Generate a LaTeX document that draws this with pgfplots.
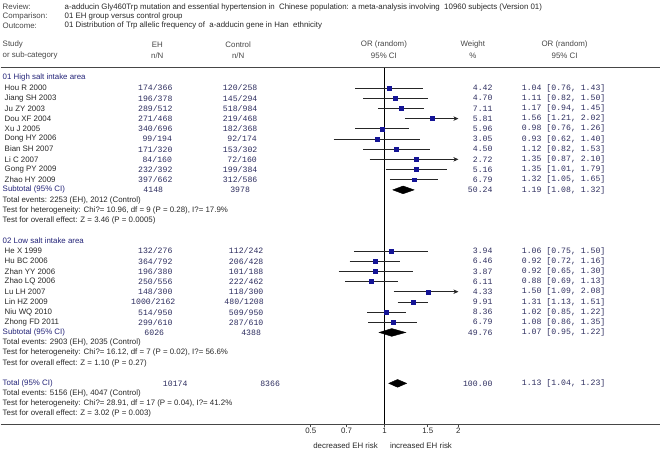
\documentclass[border=0pt]{standalone}
\usepackage{fontspec}
\setmainfont{Liberation Sans}
\setmonofont{Liberation Mono}
\usepackage{pgfplots}
\pgfplotsset{compat=1.18}
\usetikzlibrary{arrows.meta}
\definecolor{navy}{RGB}{20,20,150}
\definecolor{grp}{RGB}{35,35,120}
\definecolor{num}{RGB}{45,45,95}
\definecolor{txt}{RGB}{40,40,40}
\definecolor{lab}{RGB}{70,70,70}
\definecolor{rule}{RGB}{70,70,70}
\begin{document}
\begin{tikzpicture}
\tikzset{
  T/.style={anchor=west, inner sep=0pt, text=txt, font=\fontsize{7.9}{9}\selectfont},
  G/.style={anchor=west, inner sep=0pt, text=grp, font=\fontsize{7.9}{9}\selectfont},
  H/.style={anchor=center, inner sep=0pt, text=lab, font=\fontsize{7.9}{9}\selectfont},
  N/.style={anchor=center, inner sep=0pt, text=num, font=\ttfamily\fontsize{8.2}{9}\selectfont},
  W/.style={anchor=east, inner sep=0pt, text=num, font=\ttfamily\fontsize{8.2}{9}\selectfont},
  O/.style={anchor=west, inner sep=0pt, text=num, font=\ttfamily\fontsize{8.2}{9}\selectfont},
}
% ---------- text / frame axis (pixel units, y downward) ----------
\begin{axis}[at={(0pt,0pt)}, anchor=south west, scale only axis,
  width=661pt, height=452pt, xmin=0, xmax=661, ymin=0, ymax=452,
  y dir=reverse, hide axis, clip=false]
\path (axis cs:0,0) rectangle (axis cs:661,452);
\addplot[rule, line width=1.1pt] coordinates {(0,68) (661,68)};
\addplot[rule, line width=1.1pt] coordinates {(0,425) (661,425)};
% header
\node[T, text=lab] at (axis cs:2,7) {Review:};
\node[T] at (axis cs:64,7) {a-adducin Gly460Trp mutation and essential hypertension in\ \ Chinese population: a meta-analysis involving\ \ 10960 subjects (Version 01)};
\node[T, text=lab] at (axis cs:2,16.5) {Comparison:};
\node[T] at (axis cs:64,16.5) {01 EH group versus control group};
\node[T, text=lab] at (axis cs:2,26) {Outcome:};
\node[T] at (axis cs:64,26) {01 Distribution of Trp allelic frequency of\ \ a-adducin gene in Han\ \ ethnicity};
\node[T, text=lab] at (axis cs:2,45) {Study};
\node[T, text=lab] at (axis cs:2,56) {or sub-category};
\node[H] at (axis cs:157,45) {EH};
\node[H] at (axis cs:157,56) {n/N};
\node[H] at (axis cs:238,45) {Control};
\node[H] at (axis cs:238,56) {n/N};
\node[H] at (axis cs:384,45) {OR (random)};
\node[H] at (axis cs:384,56) {95\% CI};
\node[H] at (axis cs:473,45) {Weight};
\node[H] at (axis cs:473,56) {\%};
\node[H] at (axis cs:565,45) {OR (random)};
\node[H] at (axis cs:565,56) {95\% CI};
% group 1
\node[G] at (axis cs:2,78) {01 High salt intake area};
\node[T] at (axis cs:4,88.2) {Hou R 2000};
\node[T] at (axis cs:4,98.4) {Jiang SH 2003};
\node[T] at (axis cs:4,108.6) {Ju ZY 2003};
\node[T] at (axis cs:4,118.8) {Dou XF 2004};
\node[T] at (axis cs:4,129.0) {Xu J 2005};
\node[T] at (axis cs:4,139.2) {Dong HY 2006};
\node[T] at (axis cs:4,149.4) {Bian SH 2007};
\node[T] at (axis cs:4,159.6) {Li C 2007};
\node[T] at (axis cs:4,169.8) {Gong PY 2009};
\node[T] at (axis cs:4,180.0) {Zhao HY 2009};
\node[G] at (axis cs:2,190.2) {Subtotal (95\% CI)};
\node[T] at (axis cs:2,200.4) {Total events: 2253 (EH), 2012 (Control)};
\node[T] at (axis cs:2,210.6) {Test for heterogeneity: Chi?= 10.96, df = 9 (P = 0.28), I?= 17.9\%};
\node[T] at (axis cs:2,220.8) {Test for overall effect: Z = 3.46 (P = 0.0005)};
\node[N] at (axis cs:155,88.2) {174/366};   \node[N] at (axis cs:240,88.2) {120/258};
\node[N] at (axis cs:155,98.4) {196/378};   \node[N] at (axis cs:240,98.4) {145/294};
\node[N] at (axis cs:155,108.6) {289/512};  \node[N] at (axis cs:240,108.6) {518/984};
\node[N] at (axis cs:155,118.8) {271/468};  \node[N] at (axis cs:240,118.8) {219/468};
\node[N] at (axis cs:155,129.0) {340/696};  \node[N] at (axis cs:240,129.0) {182/368};
\node[N] at (axis cs:157,139.2) {99/194};   \node[N] at (axis cs:242,139.2) {92/174};
\node[N] at (axis cs:155,149.4) {171/320};  \node[N] at (axis cs:240,149.4) {153/302};
\node[N] at (axis cs:157,159.6) {84/160};   \node[N] at (axis cs:242,159.6) {72/160};
\node[N] at (axis cs:155,169.8) {232/392};  \node[N] at (axis cs:240,169.8) {199/384};
\node[N] at (axis cs:155,180.0) {397/662};  \node[N] at (axis cs:240,180.0) {312/586};
\node[N] at (axis cs:153,190.2) {4148};     \node[N] at (axis cs:240,190.2) {3978};
\node[W] at (axis cs:493,88.2) {4.42};  \node[O] at (axis cs:522,88.2) {1.04 [0.76, 1.43]};
\node[W] at (axis cs:493,98.4) {4.70};  \node[O] at (axis cs:522,98.4) {1.11 [0.82, 1.50]};
\node[W] at (axis cs:493,108.6) {7.11}; \node[O] at (axis cs:522,108.6) {1.17 [0.94, 1.45]};
\node[W] at (axis cs:493,118.8) {5.81}; \node[O] at (axis cs:522,118.8) {1.56 [1.21, 2.02]};
\node[W] at (axis cs:493,129.0) {5.96}; \node[O] at (axis cs:522,129.0) {0.98 [0.76, 1.26]};
\node[W] at (axis cs:493,139.2) {3.05}; \node[O] at (axis cs:522,139.2) {0.93 [0.62, 1.40]};
\node[W] at (axis cs:493,149.4) {4.50}; \node[O] at (axis cs:522,149.4) {1.12 [0.82, 1.53]};
\node[W] at (axis cs:493,159.6) {2.72}; \node[O] at (axis cs:522,159.6) {1.35 [0.87, 2.10]};
\node[W] at (axis cs:493,169.8) {5.16}; \node[O] at (axis cs:522,169.8) {1.35 [1.01, 1.79]};
\node[W] at (axis cs:493,180.0) {6.79}; \node[O] at (axis cs:522,180.0) {1.32 [1.05, 1.65]};
\node[W] at (axis cs:493,190.2) {50.24};\node[O] at (axis cs:522,190.2) {1.19 [1.08, 1.32]};
% group 2
\node[G] at (axis cs:2,241.2) {02 Low salt intake area};
\node[T] at (axis cs:4,251.4) {He X 1999};
\node[T] at (axis cs:4,261.6) {Hu BC 2006};
\node[T] at (axis cs:4,271.8) {Zhan YY 2006};
\node[T] at (axis cs:4,282.0) {Zhao LQ 2006};
\node[T] at (axis cs:4,292.2) {Lu LH 2007};
\node[T] at (axis cs:4,302.4) {Lin HZ 2009};
\node[T] at (axis cs:4,312.6) {Niu WQ 2010};
\node[T] at (axis cs:4,322.8) {Zhong FD 2011};
\node[G] at (axis cs:2,333.0) {Subtotal (95\% CI)};
\node[T] at (axis cs:2,343.2) {Total events: 2903 (EH), 2035 (Control)};
\node[T] at (axis cs:2,353.4) {Test for heterogeneity: Chi?= 16.12, df = 7 (P = 0.02), I?= 56.6\%};
\node[T] at (axis cs:2,363.6) {Test for overall effect: Z = 1.10 (P = 0.27)};
\node[N] at (axis cs:155,251.4) {132/276};  \node[N] at (axis cs:246,251.4) {112/242};
\node[N] at (axis cs:155,261.6) {364/792};  \node[N] at (axis cs:246,261.6) {206/428};
\node[N] at (axis cs:155,271.8) {196/380};  \node[N] at (axis cs:246,271.8) {101/188};
\node[N] at (axis cs:155,282.0) {250/556};  \node[N] at (axis cs:246,282.0) {222/462};
\node[N] at (axis cs:155,292.2) {148/300};  \node[N] at (axis cs:246,292.2) {118/300};
\node[N] at (axis cs:153,302.4) {1000/2162};\node[N] at (axis cs:244,302.4) {480/1208};
\node[N] at (axis cs:155,312.6) {514/950};  \node[N] at (axis cs:246,312.6) {509/950};
\node[N] at (axis cs:155,322.8) {299/610};  \node[N] at (axis cs:246,322.8) {287/610};
\node[N] at (axis cs:154,333.0) {6026};     \node[N] at (axis cs:251,333.0) {4388};
\node[W] at (axis cs:493,251.4) {3.94}; \node[O] at (axis cs:522,251.4) {1.06 [0.75, 1.50]};
\node[W] at (axis cs:493,261.6) {6.46}; \node[O] at (axis cs:522,261.6) {0.92 [0.72, 1.16]};
\node[W] at (axis cs:493,271.8) {3.87}; \node[O] at (axis cs:522,271.8) {0.92 [0.65, 1.30]};
\node[W] at (axis cs:493,282.0) {6.11}; \node[O] at (axis cs:522,282.0) {0.88 [0.69, 1.13]};
\node[W] at (axis cs:493,292.2) {4.33}; \node[O] at (axis cs:522,292.2) {1.50 [1.09, 2.08]};
\node[W] at (axis cs:493,302.4) {9.91}; \node[O] at (axis cs:522,302.4) {1.31 [1.13, 1.51]};
\node[W] at (axis cs:493,312.6) {8.36}; \node[O] at (axis cs:522,312.6) {1.02 [0.85, 1.22]};
\node[W] at (axis cs:493,322.8) {6.79}; \node[O] at (axis cs:522,322.8) {1.08 [0.86, 1.35]};
\node[W] at (axis cs:493,333.0) {49.76};\node[O] at (axis cs:522,333.0) {1.07 [0.95, 1.22]};
% total
\node[G] at (axis cs:2,384.0) {Total (95\% CI)};
\node[T] at (axis cs:2,394.2) {Total events: 5156 (EH), 4047 (Control)};
\node[T] at (axis cs:2,404.4) {Test for heterogeneity: Chi?= 28.91, df = 17 (P = 0.04), I?= 41.2\%};
\node[T] at (axis cs:2,414.6) {Test for overall effect: Z = 3.02 (P = 0.003)};
\node[N] at (axis cs:175,384.0) {10174};     \node[N] at (axis cs:270,384.0) {8366};
\node[W] at (axis cs:493,384.0) {100.00};\node[O] at (axis cs:522,384.0) {1.13 [1.04, 1.23]};
% bottom labels
\node[anchor=east, inner sep=0pt, text=txt, font=\fontsize{7.9}{9}\selectfont] at (axis cs:378,446) {decreased EH risk};
\node[anchor=west, inner sep=0pt, text=txt, font=\fontsize{7.9}{9}\selectfont] at (axis cs:390,446) {increased EH risk};
\end{axis}
% ---------- forest axis (log x, pixel rows in y) ----------
\begin{axis}[at={(310.7pt,27pt)}, anchor=south west, scale only axis,
  width=147.9pt, height=425pt, xmode=log, xmin=0.5, xmax=2,
  ymin=0, ymax=425, y dir=reverse, clip=false,
  axis x line*=bottom, axis y line=none,
  x axis line style={draw=none},
  xtick={0.5,0.7,1,1.5,2}, xticklabels={0.5,0.7,1,1.5,2}, minor xtick={},
  xtick align=outside, major tick length=3pt,
  tick style={rule, line width=0.6pt},
  xticklabel style={text=txt, font=\fontsize{7.9}{9}\selectfont, inner sep=1pt},
  ]
\addplot[black, line width=0.8pt] coordinates {(1,68) (1,425)};
% confidence intervals
\pgfplotsset{ci/.style={black!85, line width=0.6pt},
             ca/.style={black!85, line width=0.6pt, -{Stealth[length=5pt,width=4.5pt]}}}
\addplot[ci] coordinates {(0.76,88.2) (1.43,88.2)};
\addplot[ci] coordinates {(0.82,98.4) (1.50,98.4)};
\addplot[ci] coordinates {(0.94,108.6) (1.45,108.6)};
\addplot[ca] coordinates {(1.21,118.8) (2.0,118.8)};
\addplot[ci] coordinates {(0.76,129.0) (1.26,129.0)};
\addplot[ci] coordinates {(0.62,139.2) (1.40,139.2)};
\addplot[ci] coordinates {(0.82,149.4) (1.53,149.4)};
\addplot[ca] coordinates {(0.87,159.6) (2.0,159.6)};
\addplot[ci] coordinates {(1.01,169.8) (1.79,169.8)};
\addplot[ci] coordinates {(1.05,180.0) (1.65,180.0)};
\addplot[ci] coordinates {(0.75,251.4) (1.50,251.4)};
\addplot[ci] coordinates {(0.72,261.6) (1.16,261.6)};
\addplot[ci] coordinates {(0.65,271.8) (1.30,271.8)};
\addplot[ci] coordinates {(0.69,282.0) (1.13,282.0)};
\addplot[ca] coordinates {(1.09,292.2) (2.0,292.2)};
\addplot[ci] coordinates {(1.13,302.4) (1.51,302.4)};
\addplot[ci] coordinates {(0.85,312.6) (1.22,312.6)};
\addplot[ci] coordinates {(0.86,322.8) (1.35,322.8)};
% point estimates
\addplot[only marks, mark=square*, mark size=2pt, mark options={fill=navy, draw=navy}]
  coordinates {(1.04,88.2) (1.11,98.4) (1.17,108.6) (1.56,118.8) (0.98,129.0)
               (0.93,139.2) (1.12,149.4) (1.35,159.6) (1.35,169.8) (1.32,180.0)
               (1.06,251.4) (0.92,261.6) (0.92,271.8) (0.88,282.0) (1.50,292.2)
               (1.31,302.4) (1.02,312.6) (1.08,322.8)};
% pooled diamonds
\addplot[black, fill=black] coordinates {(1.08,190.2) (1.19,186.3) (1.32,190.2) (1.19,194.1)} -- cycle;
\addplot[black, fill=black] coordinates {(0.95,333.0) (1.07,329.1) (1.22,333.0) (1.07,336.9)} -- cycle;
\addplot[black, fill=black] coordinates {(1.04,384.0) (1.13,380.1) (1.23,384.0) (1.13,387.9)} -- cycle;
\end{axis}
\end{tikzpicture}
\end{document}
